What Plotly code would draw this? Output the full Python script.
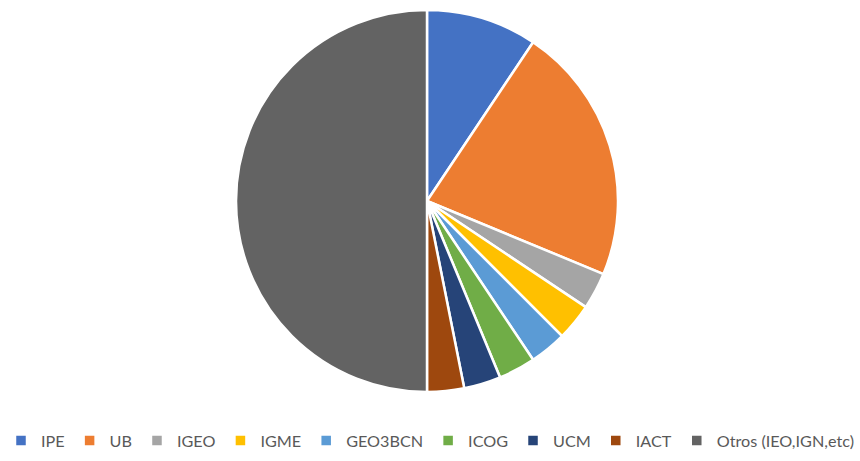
import plotly.graph_objects as go

labels = ["IPE", "UB", "IGEO", "IGME", "GEO3BCN", "ICOG", "UCM", "IACT", "Otros (IEO,IGN,etc)"]
values = [3, 7, 1, 1, 1, 1, 1, 1, 16]
colors = ["#4472C4", "#ED7D31", "#A5A5A5", "#FFC000", "#5B9BD5", "#70AD47", "#264478", "#9E480E", "#636363"]

W, H = 860, 461
cx, cy, r = 427, 201, 191

fig = go.Figure(go.Pie(
    labels=labels, values=values, sort=False, direction="clockwise", rotation=0,
    marker=dict(colors=colors, line=dict(color="white", width=2.5)),
    textinfo="none", hoverinfo="label+value+percent",
    domain=dict(x=[(cx - r) / W, (cx + r) / W], y=[1 - (cy + r) / H, 1 - (cy - r) / H]),
))
fig.update_layout(
    width=W, height=H, margin=dict(l=0, r=0, t=0, b=0, autoexpand=False),
    paper_bgcolor="white", plot_bgcolor="white",
    font=dict(family="Lato", color="#595959", size=16),
    legend=dict(orientation="h", x=0.5, xanchor="center", y=1 - 441 / H, yanchor="middle",
                itemwidth=30, font=dict(size=16.2, family="Lato", color="#595959")),
)
fig.write_html("out.html", config={"displayModeBar": False},
               post_script="document.body.style.margin='0';document.body.style.overflow='hidden';")
